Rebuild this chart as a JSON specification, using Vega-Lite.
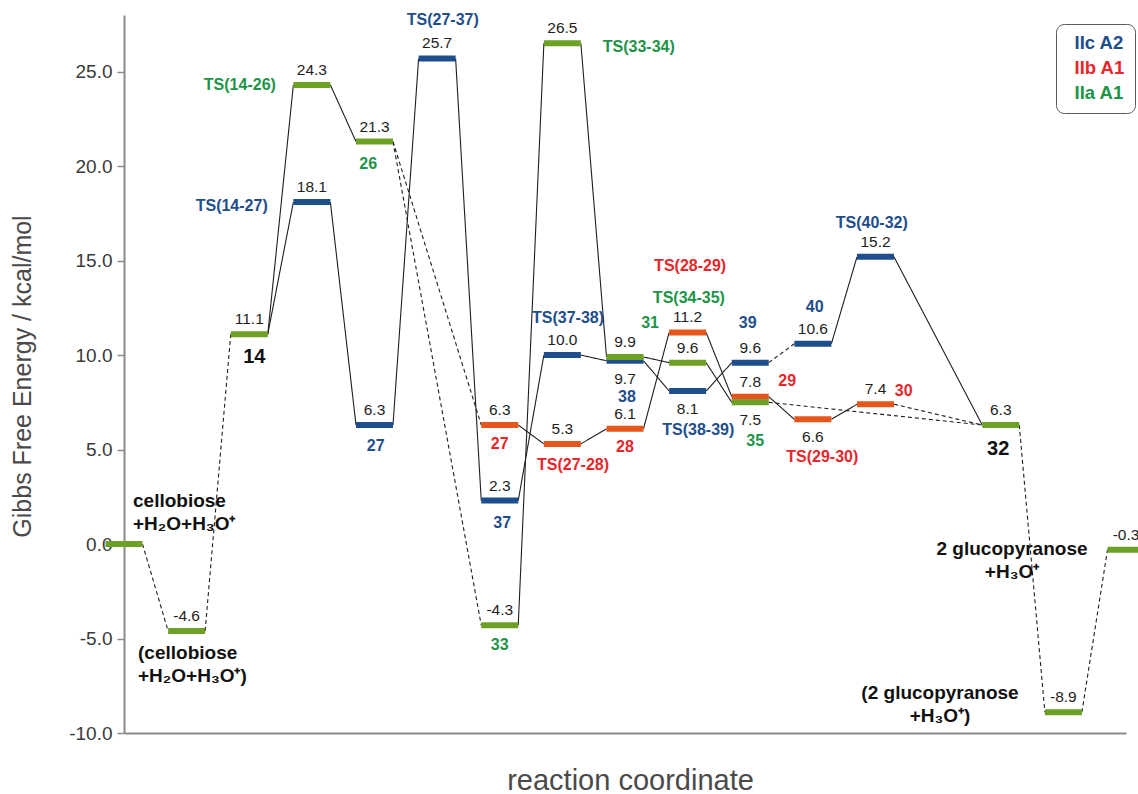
{
  "$schema": "https://vega.github.io/schema/vega-lite/v6.json",
  "width": 1002,
  "height": 718,
  "autosize": {"type": "none"},
  "padding": {"left": 124, "top": 15, "right": 12, "bottom": 61},
  "background": "white",
  "config": {
    "font": "Liberation Sans",
    "view": {"stroke": null},
    "locale": {"number": {"decimal": ".", "thousands": ",", "grouping": [3], "currency": ["$", ""], "minus": "-"}}
  },
  "datasets": {
    "links": [
      {"slot": 0, "energy": 0.0, "slot2": 1, "energy2": -4.6, "link": "indirect"},
      {"slot": 1, "energy": -4.6, "slot2": 2, "energy2": 11.1, "link": "indirect"},
      {"slot": 2, "energy": 11.1, "slot2": 3, "energy2": 24.3, "link": "direct"},
      {"slot": 2, "energy": 11.1, "slot2": 3, "energy2": 18.1, "link": "direct"},
      {"slot": 3, "energy": 24.3, "slot2": 4, "energy2": 21.3, "link": "direct"},
      {"slot": 3, "energy": 18.1, "slot2": 4, "energy2": 6.3, "link": "direct"},
      {"slot": 4, "energy": 6.3, "slot2": 5, "energy2": 25.7, "link": "direct"},
      {"slot": 5, "energy": 25.7, "slot2": 6, "energy2": 2.3, "link": "direct"},
      {"slot": 4, "energy": 21.3, "slot2": 6, "energy2": 6.3, "link": "indirect"},
      {"slot": 4, "energy": 21.3, "slot2": 6, "energy2": -4.3, "link": "indirect"},
      {"slot": 6, "energy": 6.3, "slot2": 7, "energy2": 5.3, "link": "direct"},
      {"slot": 6, "energy": 2.3, "slot2": 7, "energy2": 10.0, "link": "direct"},
      {"slot": 6, "energy": -4.3, "slot2": 7, "energy2": 26.5, "link": "direct"},
      {"slot": 7, "energy": 10.0, "slot2": 8, "energy2": 9.7, "link": "direct"},
      {"slot": 7, "energy": 5.3, "slot2": 8, "energy2": 6.1, "link": "direct"},
      {"slot": 7, "energy": 26.5, "slot2": 8, "energy2": 9.9, "link": "direct"},
      {"slot": 8, "energy": 9.9, "slot2": 9, "energy2": 9.6, "link": "direct"},
      {"slot": 8, "energy": 9.7, "slot2": 9, "energy2": 8.1, "link": "direct"},
      {"slot": 8, "energy": 6.1, "slot2": 9, "energy2": 11.2, "link": "direct"},
      {"slot": 9, "energy": 11.2, "slot2": 10, "energy2": 7.8, "link": "direct"},
      {"slot": 9, "energy": 9.6, "slot2": 10, "energy2": 7.5, "link": "direct"},
      {"slot": 9, "energy": 8.1, "slot2": 10, "energy2": 9.6, "link": "direct"},
      {"slot": 10, "energy": 7.8, "slot2": 11, "energy2": 6.6, "link": "direct"},
      {"slot": 10, "energy": 9.6, "slot2": 11, "energy2": 10.6, "link": "indirect"},
      {"slot": 11, "energy": 6.6, "slot2": 12, "energy2": 7.4, "link": "direct"},
      {"slot": 11, "energy": 10.6, "slot2": 12, "energy2": 15.2, "link": "direct"},
      {"slot": 10, "energy": 7.5, "slot2": 14, "energy2": 6.3, "link": "indirect"},
      {"slot": 12, "energy": 7.4, "slot2": 14, "energy2": 6.3, "link": "indirect"},
      {"slot": 12, "energy": 15.2, "slot2": 14, "energy2": 6.3, "link": "direct"},
      {"slot": 14, "energy": 6.3, "slot2": 15, "energy2": -8.9, "link": "indirect"},
      {"slot": 15, "energy": -8.9, "slot2": 16, "energy2": -0.3, "link": "indirect"}
    ],
    "levels": [
      {"slot": 3, "energy": 18.1, "series": "IIc A2", "side": "above"},
      {"slot": 4, "energy": 6.3, "series": "IIc A2", "side": "above"},
      {"slot": 5, "energy": 25.7, "series": "IIc A2", "side": "above"},
      {"slot": 6, "energy": 2.3, "series": "IIc A2", "side": "above"},
      {"slot": 7, "energy": 10.0, "series": "IIc A2", "side": "above"},
      {"slot": 8, "energy": 9.7, "series": "IIc A2", "side": "below"},
      {"slot": 9, "energy": 8.1, "series": "IIc A2", "side": "below"},
      {"slot": 10, "energy": 9.6, "series": "IIc A2", "side": "above"},
      {"slot": 11, "energy": 10.6, "series": "IIc A2", "side": "above"},
      {"slot": 12, "energy": 15.2, "series": "IIc A2", "side": "above"},
      {"slot": 6, "energy": 6.3, "series": "IIb A1", "side": "above"},
      {"slot": 7, "energy": 5.3, "series": "IIb A1", "side": "above"},
      {"slot": 8, "energy": 6.1, "series": "IIb A1", "side": "above"},
      {"slot": 9, "energy": 11.2, "series": "IIb A1", "side": "above"},
      {"slot": 10, "energy": 7.8, "series": "IIb A1", "side": "above"},
      {"slot": 11, "energy": 6.6, "series": "IIb A1", "side": "below"},
      {"slot": 12, "energy": 7.4, "series": "IIb A1", "side": "above"},
      {"slot": 0, "energy": 0.0, "series": "IIa A1", "side": "none"},
      {"slot": 1, "energy": -4.6, "series": "IIa A1", "side": "above"},
      {"slot": 2, "energy": 11.1, "series": "IIa A1", "side": "above"},
      {"slot": 3, "energy": 24.3, "series": "IIa A1", "side": "above"},
      {"slot": 4, "energy": 21.3, "series": "IIa A1", "side": "above"},
      {"slot": 6, "energy": -4.3, "series": "IIa A1", "side": "above"},
      {"slot": 7, "energy": 26.5, "series": "IIa A1", "side": "above"},
      {"slot": 8, "energy": 9.9, "series": "IIa A1", "side": "above"},
      {"slot": 9, "energy": 9.6, "series": "IIa A1", "side": "above"},
      {"slot": 10, "energy": 7.5, "series": "IIa A1", "side": "below"},
      {"slot": 14, "energy": 6.3, "series": "IIa A1", "side": "above"},
      {"slot": 15, "energy": -8.9, "series": "IIa A1", "side": "above"},
      {"slot": 16, "energy": -0.3, "series": "IIa A1", "side": "above"}
    ],
    "names": [
      {"slot": 1.85, "energy": 24.31, "label": "TS(14-26)", "series": "IIa A1"},
      {"slot": 3.9, "energy": 20.13, "label": "26", "series": "IIa A1"},
      {"slot": 8.22, "energy": 26.32, "label": "TS(33-34)", "series": "IIa A1"},
      {"slot": 8.4, "energy": 11.72, "label": "31", "series": "IIa A1"},
      {"slot": 9.02, "energy": 13.04, "label": "TS(34-35)", "series": "IIa A1"},
      {"slot": 10.08, "energy": 5.48, "label": "35", "series": "IIa A1"},
      {"slot": 6.0, "energy": -5.32, "label": "33", "series": "IIa A1"},
      {"slot": 1.72, "energy": 17.91, "label": "TS(14-27)", "series": "IIc A2"},
      {"slot": 4.02, "energy": 5.21, "label": "27", "series": "IIc A2"},
      {"slot": 5.09, "energy": 27.75, "label": "TS(27-37)", "series": "IIc A2"},
      {"slot": 6.04, "energy": 1.14, "label": "37", "series": "IIc A2"},
      {"slot": 7.09, "energy": 11.98, "label": "TS(37-38)", "series": "IIc A2"},
      {"slot": 8.03, "energy": 7.8, "label": "38", "series": "IIc A2"},
      {"slot": 9.17, "energy": 6.06, "label": "TS(38-39)", "series": "IIc A2"},
      {"slot": 9.96, "energy": 11.72, "label": "39", "series": "IIc A2"},
      {"slot": 11.03, "energy": 12.57, "label": "40", "series": "IIc A2"},
      {"slot": 11.94, "energy": 17.01, "label": "TS(40-32)", "series": "IIc A2"},
      {"slot": 6.0, "energy": 5.32, "label": "27", "series": "IIb A1"},
      {"slot": 7.17, "energy": 4.21, "label": "TS(27-28)", "series": "IIb A1"},
      {"slot": 8.0, "energy": 5.16, "label": "28", "series": "IIb A1"},
      {"slot": 9.04, "energy": 14.74, "label": "TS(28-29)", "series": "IIb A1"},
      {"slot": 10.59, "energy": 8.65, "label": "29", "series": "IIb A1"},
      {"slot": 11.15, "energy": 4.63, "label": "TS(29-30)", "series": "IIb A1"},
      {"slot": 12.45, "energy": 8.12, "label": "30", "series": "IIb A1"}
    ],
    "commonNames": [
      {"slot": 2.08, "energy": 9.92, "label": "14"},
      {"slot": 13.96, "energy": 5.05, "label": "32"}
    ],
    "reactants": [
      {"slot": 0.144, "energy": 2.3, "label": ["cellobiose", "+H₂O+H₃O⁺"]},
      {"slot": 0.224, "energy": -5.79, "label": ["(cellobiose", "+H₂O+H₃O⁺)"]}
    ],
    "products": [
      {"slot": 14.18, "energy": -0.24, "label": ["2 glucopyranose", "+H₃O⁺"]},
      {"slot": 13.03, "energy": -7.86, "label": ["(2 glucopyranose", "+H₃O⁺)"]}
    ]
  },
  "encoding": {
    "x": {
      "field": "slot",
      "type": "quantitative",
      "scale": {"domain": [0, 16], "nice": false, "zero": false},
      "axis": {
        "title": "reaction coordinate",
        "labels": false,
        "ticks": false,
        "grid": false,
        "domainColor": "#8a8a8a",
        "domainWidth": 2,
        "titleFont": "Liberation Sans",
        "titleFontSize": 29,
        "titleFontWeight": "normal",
        "titleColor": "#4a4a4a",
        "titleX": 506,
        "titleY": 47,
        "titleBaseline": "middle"
      }
    },
    "y": {
      "field": "energy",
      "type": "quantitative",
      "scale": {"domain": [-10, 28], "nice": false, "zero": false},
      "axis": {
        "title": "Gibbs Free Energy / kcal/mol",
        "values": [-10, -5, 0, 5, 10, 15, 20, 25],
        "format": ".1f",
        "grid": false,
        "domainColor": "#8a8a8a",
        "domainWidth": 2,
        "tickColor": "#8a8a8a",
        "tickWidth": 1.5,
        "tickSize": 7,
        "labelPadding": 5,
        "labelFont": "Liberation Sans",
        "labelFontSize": 19,
        "labelColor": "#3a3a3a",
        "titleFont": "Liberation Sans",
        "titleFontSize": 25,
        "titleFontWeight": "normal",
        "titleColor": "#4a4a4a",
        "titleX": -102,
        "titleY": 361,
        "titleBaseline": "middle"
      }
    }
  },
  "layer": [
    {
      "data": {"name": "links"},
      "mark": {"type": "rule", "stroke": "#1e1e1e", "strokeWidth": 1.1, "xOffset": 18.5, "x2Offset": -18.5},
      "encoding": {
        "x2": {"field": "slot2"},
        "y2": {"field": "energy2"},
        "strokeDash": {
          "field": "link",
          "type": "nominal",
          "scale": {"domain": ["direct", "indirect"], "range": [[1, 0], [4, 3]]},
          "legend": null
        }
      }
    },
    {
      "data": {"name": "levels"},
      "mark": {"type": "rule", "strokeWidth": 6, "strokeCap": "butt", "xOffset": -18.5, "x2Offset": 18.5},
      "encoding": {
        "x2": {"field": "slot"},
        "stroke": {
          "field": "series",
          "type": "nominal",
          "scale": {"domain": ["IIa A1", "IIb A1", "IIc A2"], "range": ["#6ca125", "#e4561c", "#1f4e8c"]},
          "legend": null
        }
      }
    },
    {
      "data": {"name": "levels"},
      "transform": [{"filter": "datum.side === 'above'"}],
      "mark": {"type": "text", "fontSize": 15.5, "color": "#1e1e1e", "baseline": "middle", "dy": -15},
      "encoding": {"text": {"field": "energy", "type": "quantitative", "format": ".1f"}}
    },
    {
      "data": {"name": "levels"},
      "transform": [{"filter": "datum.side === 'below'"}],
      "mark": {"type": "text", "fontSize": 15.5, "color": "#1e1e1e", "baseline": "middle", "dy": 18},
      "encoding": {"text": {"field": "energy", "type": "quantitative", "format": ".1f"}}
    },
    {
      "data": {"name": "names"},
      "mark": {"type": "text", "fontSize": 16, "fontWeight": "bold", "baseline": "middle"},
      "encoding": {
        "text": {"field": "label", "type": "nominal"},
        "fill": {
          "field": "series",
          "type": "nominal",
          "scale": {"domain": ["IIc A2", "IIb A1", "IIa A1"], "range": ["#1f4e8c", "#e8262b", "#1e9448"]},
          "legend": {
            "orient": "none",
            "legendX": 932,
            "legendY": 9,
            "title": null,
            "padding": 10,
            "fillColor": "white",
            "strokeColor": "#5a5a5a",
            "cornerRadius": 8,
            "symbolType": "square",
            "symbolSize": 4,
            "symbolOpacity": 0,
            "labelOffset": -10,
            "labelFont": "Liberation Sans",
            "labelFontSize": 18.5,
            "labelFontWeight": "bold",
            "rowPadding": 6,
            "encode": {"labels": {"update": {"fill": {"scale": "fill", "field": "value"}}}}
          }
        }
      }
    },
    {
      "data": {"name": "commonNames"},
      "mark": {"type": "text", "fontSize": 20, "fontWeight": "bold", "color": "#111111", "baseline": "middle"},
      "encoding": {"text": {"field": "label", "type": "nominal"}}
    },
    {
      "data": {"name": "reactants"},
      "mark": {"type": "text", "fontSize": 19, "fontWeight": "bold", "color": "#111111", "align": "left", "baseline": "middle", "lineHeight": 23, "lineBreak": "\n"},
      "encoding": {"text": {"field": "label", "type": "nominal"}}
    },
    {
      "data": {"name": "products"},
      "mark": {"type": "text", "fontSize": 19, "fontWeight": "bold", "color": "#111111", "align": "center", "baseline": "middle", "lineHeight": 23, "lineBreak": "\n"},
      "encoding": {"text": {"field": "label", "type": "nominal"}}
    }
  ]
}
